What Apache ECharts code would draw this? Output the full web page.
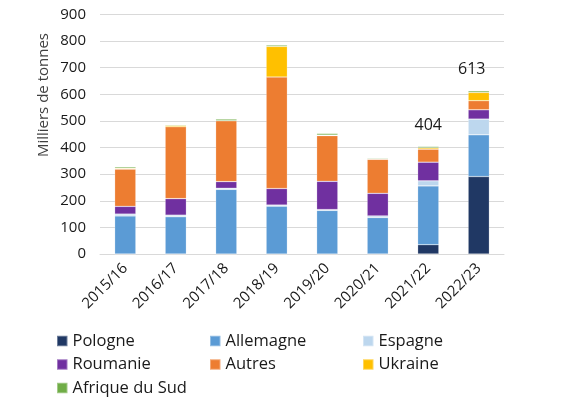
<!DOCTYPE html>
<html>
<head>
<meta charset="utf-8">
<script src="https://cdn.jsdelivr.net/npm/echarts@6/dist/echarts.min.js"></script>
<style>html,body{margin:0;padding:0;background:#fff;}#c{width:570px;height:399px;}</style>
</head>
<body>
<div id="c"></div>
<script>
const categories = ['2015/16','2016/17','2017/18','2018/19','2019/20','2020/21','2021/22','2022/23'];
const pologne   = [0, 0, 0, 0, 0, 0, 35, 291];
const allemagne = [143, 140, 243, 180, 164, 137, 221, 157];
const espagne   = [7, 6, 4, 4, 3, 6, 19, 59];
const roumanie  = [29, 62, 25, 62, 106, 85, 70, 35];
const autres    = [140, 270, 229, 419, 172, 128, 49, 34];
const ukraine   = [3, 5, 0, 115, 2, 0, 5, 31];
const afrique   = [5, 3, 6, 5, 6, 3, 5, 6];
const totalLabelIndices = [6, 7];
const yTicks = [0, 100, 200, 300, 400, 500, 600, 700, 800, 900];

const FONT = '"Open Sans", sans-serif';
const seriesDefs = [
  ['Pologne', pologne, '#203864'],
  ['Allemagne', allemagne, '#5B9BD5'],
  ['Espagne', espagne, '#BDD7EE'],
  ['Roumanie', roumanie, '#7030A0'],
  ['Autres', autres, '#ED7D31'],
  ['Ukraine', ukraine, '#FFC000'],
  ['Afrique du Sud', afrique, '#70AD47']
];
const totals = categories.map((c, i) => seriesDefs.reduce((s, d) => s + d[1][i], 0));

const series = seriesDefs.map((d, si) => {
  const isTop = si === seriesDefs.length - 1;
  return {
    name: d[0], type: 'bar', stack: 'all', barWidth: '42%',
    itemStyle: { color: d[2], borderColor: 'rgba(255,255,255,0.35)', borderWidth: 0.6 },
    data: d[1].map((v, i) => {
      if (isTop && totalLabelIndices.includes(i)) {
        return { value: v, label: { show: true, position: 'top', distance: 13,
          offset: i === 7 ? [-7, 0] : [0, 0],
          formatter: () => String(totals[i]), fontSize: 16, color: '#1a1a1a', fontFamily: FONT } };
      }
      return v;
    })
  };
});

const legendText = { fontSize: 16.5, color: '#1a1a1a', fontFamily: FONT, lineHeight: 18 };
const mkLegend = (left, names) => ({
  orient: 'vertical', left: left, top: 332, height: 90, padding: 0, itemWidth: 10.5, itemHeight: 10.5, itemGap: 5.5,
  icon: 'rect', textStyle: legendText, data: names, selectedMode: false
});

const chart = echarts.init(document.getElementById('c'), null, { renderer: 'canvas' });
chart.setOption({
  animation: false,
  backgroundColor: '#fff',
  grid: { left: 100, right: 66, top: 14.5, bottom: 145, containLabel: false },
  legend: [
    mkLegend(56, ['Pologne', 'Roumanie', 'Afrique du Sud']),
    mkLegend(209, ['Allemagne', 'Autres']),
    mkLegend(362, ['Espagne', 'Ukraine'])
  ],
  xAxis: {
    type: 'category', data: categories,
    axisLine: { lineStyle: { color: '#d9d9d9', width: 1 } },
    axisTick: { show: false },
    axisLabel: { rotate: 45, margin: 12, fontSize: 15, color: '#1a1a1a', fontFamily: FONT, interval: 0 }
  },
  yAxis: {
    type: 'value', min: yTicks[0], max: yTicks[yTicks.length - 1], interval: 100,
    axisLine: { show: false }, axisTick: { show: false },
    splitLine: { lineStyle: { color: '#d9d9d9', width: 1 } },
    axisLabel: { fontSize: 15, color: '#1a1a1a', fontFamily: FONT, margin: 14 }
  },
  graphic: [{
    type: 'text', left: 36, top: 33, rotation: Math.PI / 2,
    style: { text: 'Milliers de tonnes', fontSize: 15, fill: '#404040', fontFamily: FONT }
  }],
  series: series
});
</script>
</body>
</html>
